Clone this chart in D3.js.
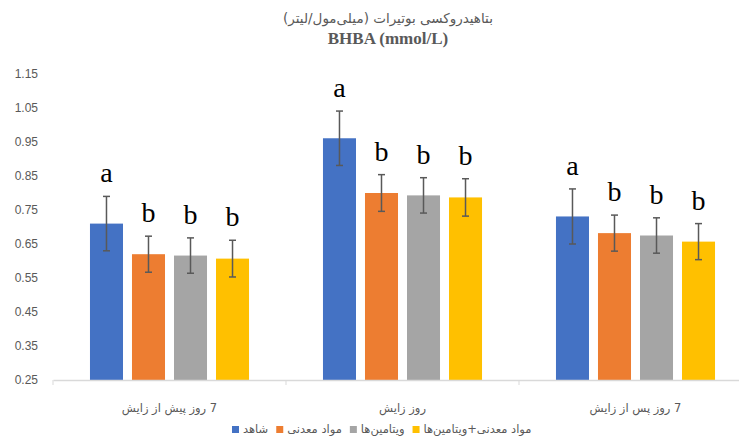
<!DOCTYPE html>
<html>
<head>
<meta charset="utf-8">
<script src="https://cdn.jsdelivr.net/npm/d3@7"></script>
<style>
  body { margin: 0; background: #fff; }
  svg { display: block; }
</style>
</head>
<body>
<svg id="chart" width="739" height="438"></svg>
<script>
// values
var categories = ["7 روز پیش از زایش", "روز زایش", "7 روز پس از زایش"];
var seriesNames = ["شاهد", "مواد معدنی", "ویتامین‌ها", "مواد معدنی+ویتامین‌ها"];
var control = [0.710, 0.961, 0.731];
var controlErr = [0.080, 0.080, 0.081];
var minerals = [0.620, 0.800, 0.682];
var mineralsErr = [0.053, 0.054, 0.053];
var vitamins = [0.616, 0.793, 0.675];
var vitaminsErr = [0.052, 0.052, 0.052];
var minVit = [0.607, 0.787, 0.657];
var minVitErr = [0.054, 0.055, 0.053];
var letters = ["a", "b", "b", "b"];
var yTicks = [0.25, 0.35, 0.45, 0.55, 0.65, 0.75, 0.85, 0.95, 1.05, 1.15];

var colours = ["#4472C4", "#ED7D31", "#A5A5A5", "#FFC000"];
var allValues = [control, minerals, vitamins, minVit];
var allErrs = [controlErr, mineralsErr, vitaminsErr, minVitErr];

var svg = d3.select("#chart");
var textGrey = "#595959";

// build flat rows for drawing
var rows = [];
categories.forEach(function (c, ci) {
    seriesNames.forEach(function (s, si) {
        rows.push({cat: c, series: s, si: si, value: allValues[si][ci], err: allErrs[si][ci], letter: letters[si]});
    });
});

var x0 = d3.scaleBand().domain(categories).range([53, 752]);
var x1 = d3.scaleBand().domain(seriesNames).range([0, x0.bandwidth()]).paddingInner(0.214).paddingOuter(0.88);
var y = d3.scaleLinear().domain([0.25, 1.15]).range([380, 74]);

// title
svg.append("text")
    .attr("x", 388).attr("y", 23)
    .attr("text-anchor", "middle")
    .attr("direction", "rtl")
    .style("font-family", "'DejaVu Sans', sans-serif")
    .style("font-size", "13.5px")
    .attr("fill", textGrey)
    .text("بتاهیدروکسی بوتیرات (میلی‌مول/لیتر)");

svg.append("text")
    .attr("x", 388).attr("y", 44)
    .attr("text-anchor", "middle")
    .style("font-family", "'Liberation Serif', 'Times New Roman', serif")
    .style("font-size", "17px")
    .style("font-weight", "bold")
    .attr("fill", textGrey)
    .text("BHBA (mmol/L)");

// y axis labels, no line
var yAxis = svg.append("g")
    .attr("transform", "translate(38,0)")
    .call(d3.axisLeft(y).tickValues(yTicks).tickFormat(d3.format(".2f")).tickSize(0).tickPadding(0));
yAxis.select(".domain").remove();
yAxis.selectAll("text")
    .attr("fill", textGrey)
    .style("font-family", "'Liberation Sans', Arial, sans-serif")
    .style("font-size", "12px");

// bars
var groups = svg.selectAll(".grp")
    .data(rows)
    .enter().append("g")
    .attr("transform", function (d) { return "translate(" + (x0(d.cat) + x1(d.series)) + ",0)"; });

groups.append("rect")
    .attr("x", 0)
    .attr("y", function (d) { return y(d.value); })
    .attr("width", x1.bandwidth())
    .attr("height", function (d) { return y(0.25) - y(d.value); })
    .attr("fill", function (d) { return colours[d.si]; });

// error bars
var bw = x1.bandwidth();
groups.append("line")
    .attr("x1", bw / 2).attr("x2", bw / 2)
    .attr("y1", function (d) { return y(d.value + d.err); })
    .attr("y2", function (d) { return y(d.value - d.err); })
    .attr("stroke", "#595959").attr("stroke-width", 1.5);
groups.append("line")
    .attr("x1", bw / 2 - 3.5).attr("x2", bw / 2 + 3.5)
    .attr("y1", function (d) { return y(d.value + d.err); })
    .attr("y2", function (d) { return y(d.value + d.err); })
    .attr("stroke", "#595959").attr("stroke-width", 1.5);
groups.append("line")
    .attr("x1", bw / 2 - 3.5).attr("x2", bw / 2 + 3.5)
    .attr("y1", function (d) { return y(d.value - d.err); })
    .attr("y2", function (d) { return y(d.value - d.err); })
    .attr("stroke", "#595959").attr("stroke-width", 1.5);

// significance letters
groups.append("text")
    .attr("x", bw / 2)
    .attr("y", function (d) { return y(d.value + d.err) - 14; })
    .attr("text-anchor", "middle")
    .style("font-family", "'Liberation Serif', 'Times New Roman', serif")
    .style("font-size", "28px")
    .attr("fill", "#000")
    .text(function (d) { return d.letter; });

// x axis
var xAxis = svg.append("g")
    .attr("transform", "translate(0,380)")
    .call(d3.axisBottom(x0).tickSize(0).tickPadding(0));
xAxis.select(".domain").attr("stroke", "#d9d9d9").attr("stroke-width", 1.3);
xAxis.selectAll("text")
    .attr("y", 24)
    .attr("direction", "rtl")
    .attr("fill", textGrey)
    .style("font-family", "'DejaVu Sans', sans-serif")
    .style("font-size", "11.5px");
// boundary ticks between categories
svg.append("g").selectAll("line")
    .data(categories)
    .enter().append("line")
    .attr("x1", function (d) { return x0(d); })
    .attr("x2", function (d) { return x0(d); })
    .attr("y1", 380).attr("y2", 385)
    .attr("stroke", "#d9d9d9").attr("stroke-width", 1);

// legend
var legend = svg.append("g");
var lx = 232;
seriesNames.forEach(function (s, i) {
    legend.append("rect")
        .attr("x", lx).attr("y", 426)
        .attr("width", 7).attr("height", 7)
        .attr("fill", colours[i]);
    var t = legend.append("text")
        .attr("x", lx + 11).attr("y", 433)
        .attr("direction", "rtl")
        .attr("text-anchor", "end")
        .attr("fill", textGrey)
        .style("font-family", "'DejaVu Sans', sans-serif")
        .style("font-size", "11.5px")
        .text(s);
    var w = t.node().getComputedTextLength();
    lx = lx + 11 + w + 8;
});
</script>
</body>
</html>
